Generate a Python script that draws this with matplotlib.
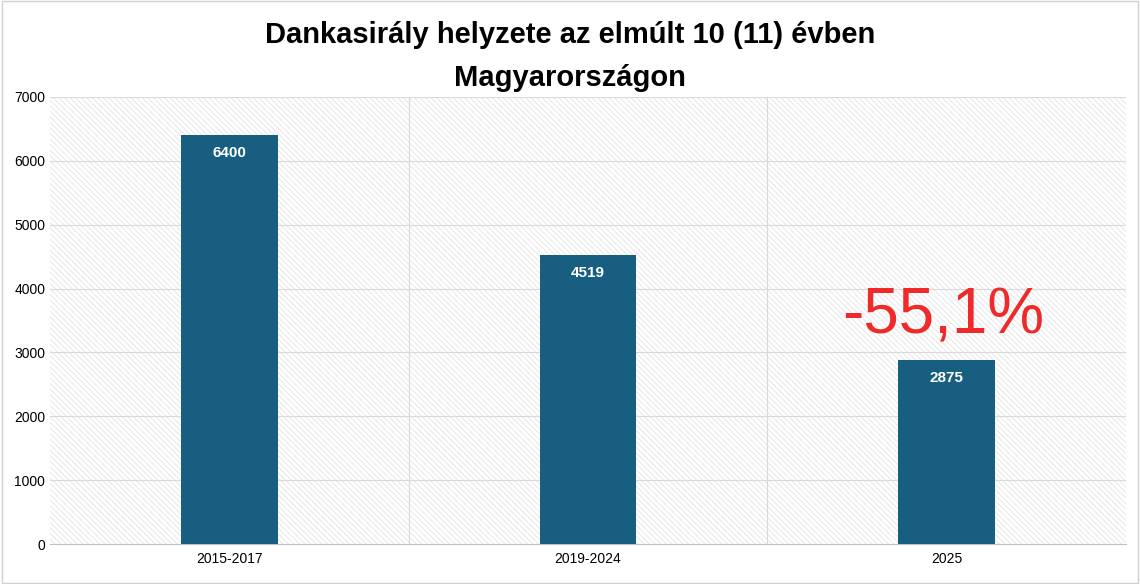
import matplotlib
matplotlib.use("Agg")
import matplotlib.pyplot as plt
from matplotlib.patches import Rectangle

categories = ["2015-2017", "2019-2024", "2025"]
values = [6400, 4519, 2875]
yticks = [0, 1000, 2000, 3000, 4000, 5000, 6000, 7000]

plt.rcParams['font.family'] = ['Liberation Sans', 'DejaVu Sans']
plt.rcParams['hatch.color'] = '#e3e3e3'
plt.rcParams['hatch.linewidth'] = 0.6

fig = plt.figure(figsize=(11.4, 5.84), dpi=100)
fig.patches.append(Rectangle((0.002, 0.002), 0.996, 0.996, transform=fig.transFigure,
                             fill=False, edgecolor='#d0d0d0', lw=1))
ax = fig.add_axes([50/1140, 40/584, 1076/1140, 447/584])
ax.set_facecolor('white')
ax.add_patch(Rectangle((0, 0), 1, 1, transform=ax.transAxes, facecolor='none',
                       hatch='\\\\\\\\\\\\', edgecolor='#e3e3e3', lw=0, zorder=0))
x = list(range(len(categories)))
bars = ax.bar(x, values, width=0.27, color='#175e80', zorder=3)
for xi, v in zip(x, values):
    ax.text(xi, v - 280, str(v), ha='center', va='center', color='white',
            fontsize=11, fontweight='bold', zorder=4)
ax.set_xlim(-0.5, 2.5)
ax.set_ylim(0, 7000)
ax.set_yticks(yticks)
ax.set_xticks(x)
ax.set_xticklabels(categories, fontsize=10)
ax.tick_params(axis='y', labelsize=10, length=0)
ax.tick_params(axis='x', length=0, pad=6)
for y in yticks[1:]:
    ax.axhline(y, color='#d9d9d9', lw=0.8, zorder=1)
for b in [0.5, 1.5]:
    ax.axvline(b, color='#d9d9d9', lw=0.8, zorder=1)
for s in ['top', 'right', 'left']:
    ax.spines[s].set_visible(False)
ax.spines['bottom'].set_color('#bfbfbf')
ax.text(1.99, 3570, "-55,1%", ha='center', va='center', color='#ee2a2a', fontsize=46,
        zorder=5)
fig.text(0.5, 0.94, "Dankasirály helyzete az elmúlt 10 (11) évben", ha='center', va='center',
         fontsize=21, fontweight='bold')
fig.text(0.5, 0.866, "Magyarországon", ha='center', va='center', fontsize=21, fontweight='bold')
fig.savefig("out.png", dpi=100)
